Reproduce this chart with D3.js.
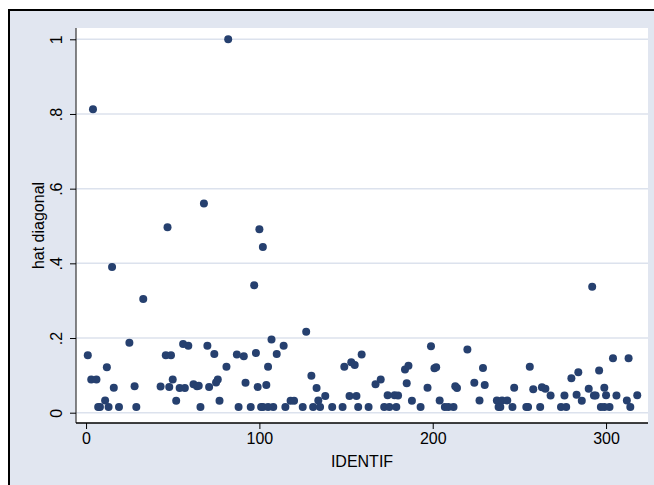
<!DOCTYPE html>
<html>
<head>
<meta charset="utf-8">
<script src="https://cdn.jsdelivr.net/npm/d3@7"></script>
<style>
  html, body { margin: 0; padding: 0; background: #ffffff; }
  svg { display: block; }
  text { font-family: "Liberation Sans", Arial, Helvetica, sans-serif; fill: #000; }
</style>
</head>
<body>
<svg id="chart" width="654" height="485"></svg>
<script>
// IDENTIF values
const identif = [
  1, 4, 3, 6, 7, 8, 11, 12, 13, 15, 16, 19, 25, 28, 29, 33,
  43, 46, 47, 48, 49, 50, 52, 54, 56, 57, 59, 62, 64, 65, 66, 68,
  70, 71, 74, 75, 76, 77, 81, 82, 87, 88, 91, 92, 95, 97, 98, 99,
  100, 101, 102, 102, 104, 105, 105, 107, 108, 110, 114, 115, 118, 120, 125, 127,
  130, 131, 133, 134, 135, 138, 142, 148, 149, 152, 153, 155, 156, 157, 159, 163,
  167, 170, 172, 174, 175, 178, 179, 180, 184, 185, 186, 188, 193, 197, 199, 201,
  202, 204, 207, 209, 212, 213, 214, 220, 224, 227, 229, 230, 237, 238, 239, 240,
  243, 246, 247, 254, 255, 256, 258, 262, 263, 265, 268, 274, 276, 277, 280, 283,
  284, 286, 290, 292, 293, 294, 296, 297, 299, 299, 300, 302, 304, 306, 312, 313,
  314, 318
];
// hat diagonal values
const hat = [
  0.154, 0.8125, 0.089, 0.089, 0.015, 0.015, 0.033, 0.122, 0.015, 0.390, 0.067, 0.015, 0.1875, 0.071, 0.015, 0.3045,
  0.070, 0.154, 0.4965, 0.069, 0.154, 0.089, 0.032, 0.066, 0.184, 0.066, 0.179, 0.076, 0.071, 0.072, 0.015, 0.560,
  0.179, 0.069, 0.157, 0.081, 0.089, 0.032, 0.123, 1.000, 0.156, 0.015, 0.151, 0.080, 0.015, 0.341, 0.160, 0.069,
  0.491, 0.015, 0.4437, 0.015, 0.074, 0.015, 0.123, 0.196, 0.015, 0.157, 0.179, 0.015, 0.032, 0.032, 0.015, 0.217,
  0.099, 0.015, 0.066, 0.033, 0.015, 0.045, 0.015, 0.015, 0.123, 0.045, 0.135, 0.128, 0.045, 0.015, 0.156, 0.015,
  0.076, 0.089, 0.015, 0.047, 0.015, 0.047, 0.015, 0.046, 0.116, 0.079, 0.126, 0.032, 0.015, 0.067, 0.178, 0.119,
  0.122, 0.033, 0.015, 0.015, 0.015, 0.071, 0.066, 0.169, 0.080, 0.033, 0.120, 0.074, 0.033, 0.015, 0.015, 0.033,
  0.033, 0.015, 0.067, 0.015, 0.015, 0.123, 0.063, 0.015, 0.068, 0.064, 0.046, 0.015, 0.046, 0.015, 0.092, 0.048,
  0.108, 0.032, 0.064, 0.3374, 0.046, 0.046, 0.113, 0.015, 0.015, 0.067, 0.047, 0.015, 0.146, 0.046, 0.033, 0.146,
  0.015, 0.047
];
const xTicks = [0, 100, 200, 300];
const yTicks = [0, 0.2, 0.4, 0.6, 0.8, 1];
const yTickLabels = ["0", ".2", ".4", ".6", ".8", "1"];
const xTitle = "IDENTIF";
const yTitle = "hat diagonal";

const svg = d3.select("#chart");
const W = 654, H = 485;
const plot = { left: 76, right: 648, top: 28, bottom: 423 };

// graph region
svg.append("rect").attr("x", 9).attr("y", 10).attr("width", W + 20).attr("height", H + 20)
  .attr("fill", "#e1e6f0").attr("stroke", "#000").attr("stroke-width", 2);

// plot region
svg.append("rect").attr("x", plot.left).attr("y", plot.top)
  .attr("width", plot.right - plot.left).attr("height", plot.bottom - plot.top)
  .attr("fill", "#ffffff");

const x = d3.scaleLinear().domain([-5.8, 324.2]).range([plot.left, plot.right]);
const y = d3.scaleLinear().domain([0, 1]).range([412.7, 39.3]);

// gridlines
svg.append("g").selectAll("line").data(yTicks).join("line")
  .attr("x1", plot.left).attr("x2", plot.right)
  .attr("y1", d => y(d)).attr("y2", d => y(d))
  .attr("stroke", "#dce2ed").attr("stroke-width", 1.5);

// points
svg.append("g").selectAll("circle").data(identif.map((d, i) => [d, hat[i]])).join("circle")
  .attr("cx", d => x(d[0])).attr("cy", d => y(d[1])).attr("r", 4)
  .attr("fill", "#26406f");

// y axis
const yAxis = d3.axisLeft(y).tickValues(yTicks).tickSize(6).tickPadding(0)
  .tickFormat((d, i) => yTickLabels[i]);
const gy = svg.append("g").attr("transform", `translate(${plot.left},0)`).call(yAxis);
gy.select(".domain").attr("d", `M0,${plot.top}V${plot.bottom}`).attr("stroke", "#444").attr("stroke-width", 1.3);
gy.selectAll(".tick line").attr("stroke", "#000").attr("stroke-width", 1);
gy.selectAll(".tick text").remove();
gy.selectAll(".tick").append("text")
  .attr("transform", "translate(-20,0) rotate(-90)")
  .attr("text-anchor", "middle").attr("dy", "0.35em")
  .style("font-size", "16px")
  .text((d, i) => yTickLabels[i]);

// x axis
const xAxis = d3.axisBottom(x).tickValues(xTicks).tickSize(6).tickPadding(4)
  .tickFormat(d3.format("d"));
const gx = svg.append("g").attr("transform", `translate(0,${plot.bottom})`).call(xAxis);
gx.select(".domain").attr("d", `M${plot.left},0H${plot.right}`).attr("stroke", "#000").attr("stroke-width", 1.3);
gx.selectAll(".tick line").attr("stroke", "#000").attr("stroke-width", 1);
gx.selectAll(".tick text").attr("font-size", null).style("font-size", "16px")
  .attr("font-family", null).attr("fill", "#000");

// titles
svg.append("text").attr("x", (plot.left + plot.right) / 2).attr("y", 467)
  .attr("text-anchor", "middle").style("font-size", "16px").text(xTitle);
svg.append("text").attr("transform", `translate(38,${(plot.top + plot.bottom) / 2}) rotate(-90)`)
  .attr("text-anchor", "middle").attr("dy", "0.35em").style("font-size", "16px").text(yTitle);
</script>
</body>
</html>
